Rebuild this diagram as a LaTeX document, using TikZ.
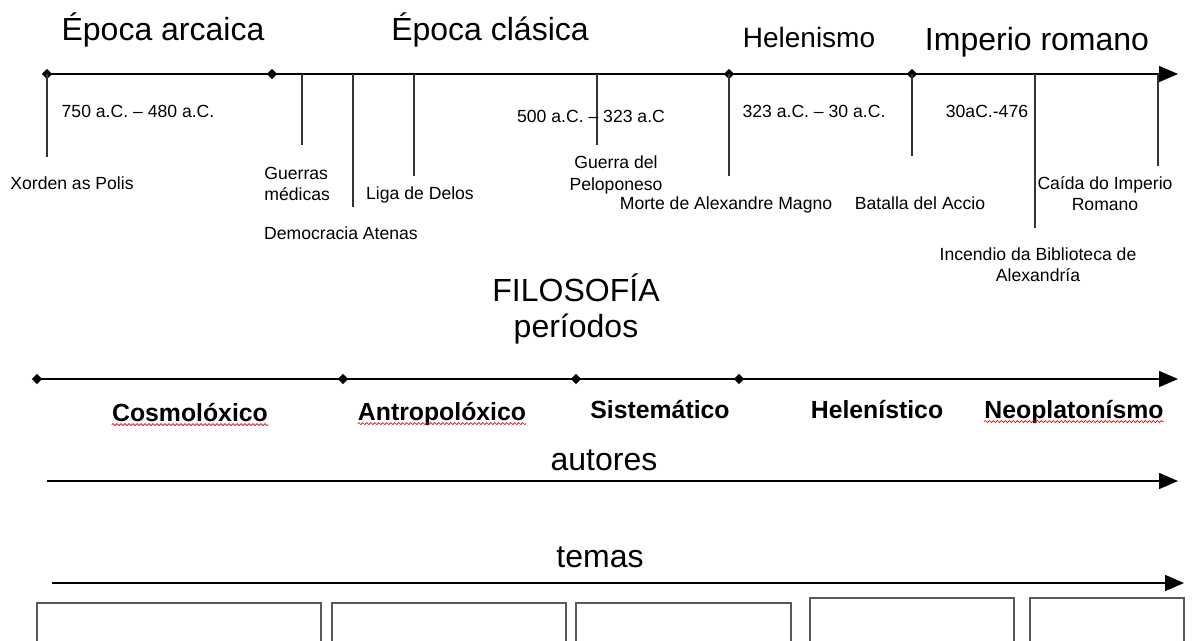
\documentclass[tikz,border=0pt]{standalone}
\usepackage{fontspec}
\setmainfont{Liberation Sans}
\usepackage{tikz}
\usetikzlibrary{arrows.meta, shapes.geometric, decorations.pathmorphing}
\tikzstyle{axis} = [line width=0.75pt, -{Triangle[length=9.5pt,width=8pt]}]

\begin{document}
\begin{tikzpicture}[
    x=0.5pt, y=-0.5pt,
    milestone/.style={diamond, fill, inner sep=0pt, minimum size=5.2pt},
    era/.style={inner sep=0pt, anchor=base, font=\fontsize{16}{19}\selectfont},
    ev/.style={inner sep=0pt, anchor=base, align=center, font=\fontsize{8.8}{10.6}\selectfont},
    per/.style={inner sep=0pt, anchor=base, font=\fontsize{12.4}{15}\selectfont\bfseries},
    evtick/.style={line width=0.6pt, black!80},
    panel/.style={line width=0.6pt, black!65},
    squig/.style={red!85!black, line width=0.3pt, decorate,
      decoration={snake, segment length=2pt, amplitude=0.5pt}},
  ]
  \useasboundingbox (0,0) rectangle (1197,641);

  % historia
  \node[era] (arcaica) at (163,41) {Época arcaica};
  \node[era] (clasica) at (490,41) {Época clásica};
  \node[era, font=\fontsize{14}{17}\selectfont] (helenismo) at (809,48) {Helenismo};
  \node[era] (imperio) at (1037,51) {Imperio romano};

  \node[milestone] (a1) at (47,74) {};
  \node[milestone] (a2) at (272,74) {};
  \node[milestone] (a3) at (729,74) {};
  \node[milestone] (a4) at (912,74) {};
  \coordinate (aend) at (1178,74);
  \draw[axis] (a1.center) -- (aend);

  \foreach \n/\x/\y in {xorden/47/157, guerras/302/145, democracia/353/207,
      delos/414/176, peloponeso/597/145, alexandre/729/176, accio/912/156,
      incendio/1035/228, caida/1158/166}
    \draw[evtick] (\x,74) coordinate (\n-top) -- (\x,\y) coordinate (\n-end);

  \node[ev] (d1) at (138,118) {750 a.C. – 480 a.C.};
  \node[ev] (d2) at (591,123) {500 a.C. – 323 a.C};
  \node[ev] (d3) at (814,118) {323 a.C. – 30 a.C.};
  \node[ev] (d4) at (987,118) {30aC.-476};

  \node[ev] (xorden) at (72,190) {Xorden as Polis};
  \node[ev, align=left, anchor=west] (guerras) at (264,184) {Guerras\\médicas};
  \node[ev] (democracia) at (341,240) {Democracia Atenas};
  \node[ev] (delos) at (420,200) {Liga de Delos};
  \node[ev, anchor=center] (peloponeso) at (616,175) {Guerra del\\Peloponeso};
  \node[ev] (alexandre) at (726,210) {Morte de Alexandre Magno};
  \node[ev] (accio) at (920,210) {Batalla del Accio};
  \node[ev, anchor=center] (caida) at (1105,194) {Caída do Imperio\\Romano};
  \node[ev, anchor=center] (incendio) at (1038,265) {Incendio da Biblioteca de\\Alexandría};

  % filosofia
  \node[era] (filosofia) at (576,301) {FILOSOFÍA};
  \node[era] (periodos) at (576,337) {períodos};

  \node[milestone] (p1) at (37,379) {};
  \node[milestone] (p2) at (343,379) {};
  \node[milestone] (p3) at (576,379) {};
  \node[milestone] (p4) at (739,379) {};
  \coordinate (pend) at (1178,379);
  \draw[axis] (p1.center) -- (pend);

  \node[per] (cosmo) at (190,421) {Cosmolóxico};
  \node[per] (antropo) at (442,420) {Antropolóxico};
  \node[per] (sistema) at (660,418) {Sistemático};
  \node[per] (helenistico) at (877,418) {Helenístico};
  \node[per] (neoplaton) at (1074,418) {Neoplatonísmo};
  \foreach \n in {cosmo, antropo, neoplaton}
    \draw[squig] ([yshift=-1.8pt]\n.base west) -- ([yshift=-1.8pt]\n.base east);

  \node[era] (autores) at (604,470) {autores};
  \coordinate (au-start) at (47,481);
  \coordinate (au-end) at (1178,481);
  \draw[axis] (au-start) -- (au-end);

  \node[era] (temas) at (600,567) {temas};
  \coordinate (te-start) at (52,583);
  \coordinate (te-end) at (1184,583);
  \draw[axis] (te-start) -- (te-end);

  \foreach \l/\r/\t in {37/321/603, 332/566/603, 576/791/603, 810/1014/598, 1030/1184/598}
    \draw[panel] (\l,650) |- (\r,\t) -- (\r,650);
\end{tikzpicture}
\end{document}
